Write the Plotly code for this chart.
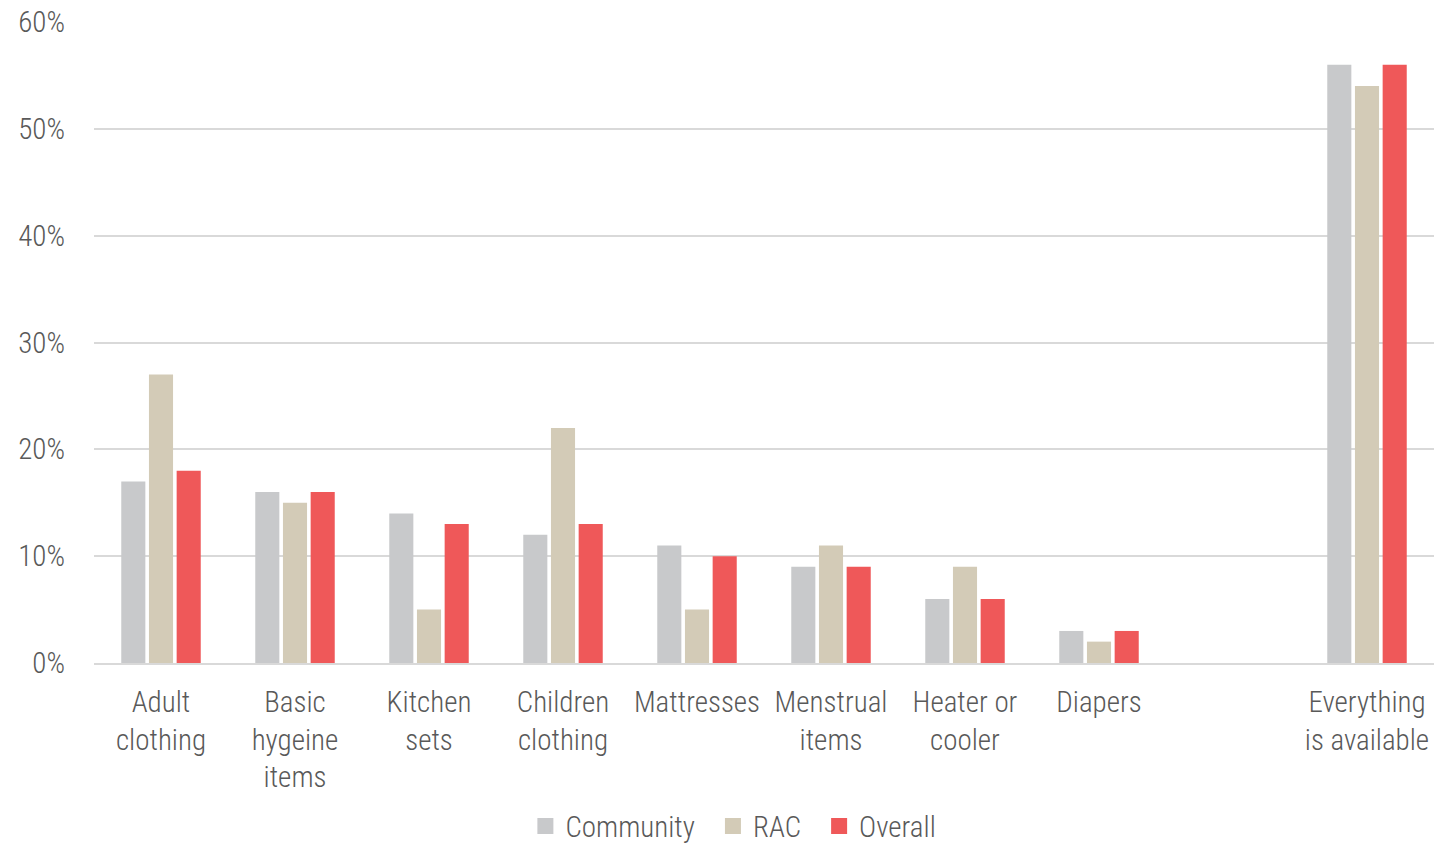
import plotly.graph_objects as go

categories = ["Adult<br>clothing", "Basic<br>hygeine<br>items", "Kitchen<br>sets", "Children<br>clothing",
              "Mattresses", "Menstrual<br>items", "Heater or<br>cooler", "Diapers", " ", "Everything<br>is available"]
community = [17, 16, 14, 12, 11, 9, 6, 3, None, 56]
rac = [27, 15, 5, 22, 5, 11, 9, 2, None, 54]
overall = [18, 16, 13, 13, 10, 9, 6, 3, None, 56]
y_ticks = [0, 10, 20, 30, 40, 50, 60]
y_tick_labels = ["0%", "10%", "20%", "30%", "40%", "50%", "60%"]

FONT = "Roboto Condensed, Liberation Sans Narrow, Arial Narrow, sans-serif"
TXT = "#595959"
FS = 29

series = [("Community", community, "#C8C9CB"),
          ("RAC", rac, "#D3CBB7"),
          ("Overall", overall, "#EF5859")]

fig = go.Figure()
for name, vals, col in series:
    fig.add_trace(go.Bar(x=categories, y=vals, name=name, showlegend=False,
                         marker=dict(color=col, line=dict(width=0))))
for name, vals, col in series:
    fig.add_trace(go.Scatter(x=[None], y=[None], name=name + "\u00a0\u00a0", mode="markers",
                             marker=dict(symbol="square", size=16, color=col)))

fig.update_layout(
    width=1434, height=850,
    margin=dict(l=94, r=0, t=22, b=187),
    paper_bgcolor="white", plot_bgcolor="white",
    barmode="group", bargap=0.38, bargroupgap=0.13,
    font=dict(family=FONT, size=FS, color=TXT, weight=300),
    showlegend=True,
    legend=dict(orientation="h", xref="paper", x=0.482, xanchor="center",
                yref="container", y=0.028, yanchor="middle",
                font=dict(family=FONT, size=FS, color=TXT, weight=300),
                itemwidth=30, traceorder="normal"),
)
fig.update_xaxes(type="category", categoryorder="array", categoryarray=categories,
                 showgrid=False, showline=True, linecolor="#D9D9D9", linewidth=2,
                 ticks="", automargin=False, ticklabelstandoff=12,
                 tickfont=dict(family=FONT, size=FS, color=TXT, weight=300))
fig.update_yaxes(range=[0, 60], tickvals=y_ticks, ticktext=y_tick_labels,
                 showgrid=True, gridcolor="#D9D9D9", gridwidth=1.5,
                 zeroline=False, showline=False, ticks="", automargin=False,
                 ticklabelstandoff=28,
                 tickfont=dict(family=FONT, size=FS, color=TXT, weight=300))

fig.write_html("out.html", config={"displayModeBar": False},
               post_script="document.body.style.margin='0';")
